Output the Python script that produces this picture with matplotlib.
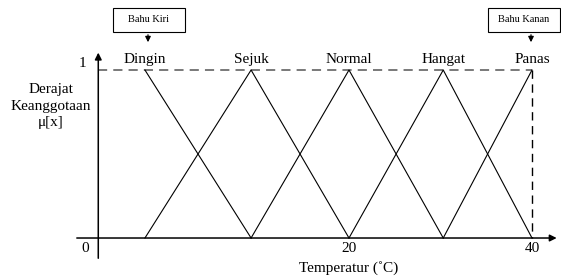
import matplotlib.pyplot as plt
from matplotlib.patches import Rectangle

# fuzzy sets (schematic temperature scale)
names = ['Dingin', 'Sejuk', 'Normal', 'Hangat', 'Panas']
peaks = [-2.3, 9.3, 20, 30.3, 40]
x_ticks = [-7.4, 20, 40]
x_ticklabels = ['0', '20', '40']

plt.rcParams['font.family'] = ['Liberation Serif', 'DejaVu Serif']

fig = plt.figure(figsize=(5.61, 2.78), dpi=100)
ax = fig.add_axes([0, 0, 1, 1])
ax.set_xlim(-18.14, 43.17)
ax.set_ylim(-0.238, 1.4167)
ax.axis('off')

x0 = x_ticks[0]
k = 'black'

# axes with arrows
ax.annotate('', xy=(43.0, 0), xytext=(-10.05, 0),
            arrowprops=dict(arrowstyle='-|>', color=k, lw=1.1, mutation_scale=10))
ax.annotate('', xy=(x0, 1.12), xytext=(x0, -0.137),
            arrowprops=dict(arrowstyle='-|>', color=k, lw=1.1, mutation_scale=10))

# dashed shoulder lines
ax.plot([x0, peaks[-1]], [1, 1], ls=(0, (6, 4)), c='#555555', lw=1.1)
ax.plot([peaks[-1], peaks[-1]], [1, 0], ls=(0, (6, 4)), c=k, lw=1.0)

# membership functions
ax.plot([peaks[0], peaks[1]], [1, 0], c=k, lw=0.8)
for i in range(1, len(peaks) - 1):
    ax.plot([peaks[i - 1], peaks[i], peaks[i + 1]], [0, 1, 0], c=k, lw=0.8)
ax.plot([peaks[-2], peaks[-1]], [0, 1], c=k, lw=0.8)

for n, p in zip(names, peaks):
    ax.text(p, 1.025, n, ha='center', va='bottom', fontsize=11)

for t, l in zip(x_ticks, x_ticklabels):
    xx = t - 1.4 if l == '0' else t
    ax.text(xx, -0.025, l, ha='center', va='top', fontsize=11)
ax.text(x0 - 1.7, 1.0, '1', ha='center', va='bottom', fontsize=11)

ax.text(-12.6, 0.785, 'Derajat\nKeanggotaan\nμ[x]', ha='center', va='center',
        fontsize=11, linespacing=1.35)
ax.text(20, -0.14, 'Temperatur (˚C)', ha='center', va='top', fontsize=11)

# annotation boxes in pixel coordinates
ov = fig.add_axes([0, 0, 1, 1])
ov.set_xlim(0, 561)
ov.set_ylim(278, 0)
ov.axis('off')
ov.patch.set_alpha(0)
for x, w, label, ax_x in [(113, 72, 'Bahu Kiri', 148), (488, 72, 'Bahu Kanan', 531)]:
    ov.add_patch(Rectangle((x, 8), w, 24, fill=False, ec=k, lw=0.8))
    ov.text(x + w / 2, 20, label, ha='center', va='center', fontsize=7.5)
    ov.annotate('', xy=(ax_x, 45), xytext=(ax_x, 32),
                arrowprops=dict(arrowstyle='-|>', color=k, lw=0.9, mutation_scale=8))

fig.savefig('out.png', dpi=100)
